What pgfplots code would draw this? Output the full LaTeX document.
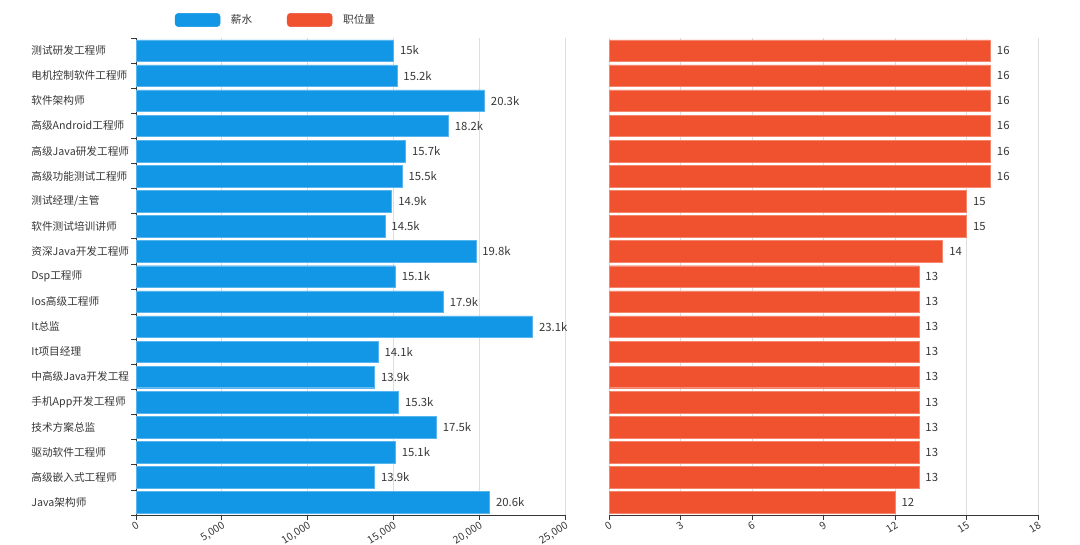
\documentclass[border=0pt]{standalone}
\usepackage{pgfplots}
\pgfplotsset{compat=1.18}
\usepackage{pgfplotstable}
\usepackage{fontspec}
\setmainfont{Noto Sans CJK SC}
\definecolor{cblue}{RGB}{18,150,230}
\definecolor{cred}{RGB}{240,82,48}
\definecolor{txt}{RGB}{55,55,55}
\definecolor{gridc}{RGB}{222,222,222}

\pgfplotstableread{
x y label
15000 0 15k
15200 1 15.2k
20300 2 20.3k
18200 3 18.2k
15700 4 15.7k
15500 5 15.5k
14900 6 14.9k
14500 7 14.5k
19800 8 19.8k
15100 9 15.1k
17900 10 17.9k
23100 11 23.1k
14100 12 14.1k
13900 13 13.9k
15300 14 15.3k
17500 15 17.5k
15100 16 15.1k
13900 17 13.9k
20600 18 20.6k
}\salary

\pgfplotstableread{
x y
16 0
16 1
16 2
16 3
16 4
16 5
15 6
15 7
14 8
13 9
13 10
13 11
13 12
13 13
13 14
13 15
13 16
13 17
12 18
}\jobs

\pgfplotsset{
  mybase/.style={
    scale only axis, width=321.75pt, height=357.75pt,
    xbar, bar width=0.86, y dir=reverse, ymin=-0.5, ymax=18.5,
    axis x line*=bottom, axis y line*=left,
    xmajorgrids, grid style={gridc, line width=0.6pt},
    tick align=outside, major tick length=3.5pt,
    x tick label style={rotate=32, anchor=north east, font=\fontsize{7.8}{9}\selectfont, text=txt, inner sep=0.5pt},
    /pgf/number format/assume math mode=true,
    axis line style={txt}, tick style={txt, line width=0.6pt},
    every node near coord/.append style={font=\fontsize{8.5}{10}\selectfont, text=txt, anchor=west, xshift=1.5pt},
    clip=false,
  }
}

\begin{document}
\begin{tikzpicture}
\path[use as bounding box] (0,0) rectangle (810pt,408pt);
\begin{axis}[mybase,
  at={(102pt,21.75pt)}, anchor=south west,
  xmin=0, xmax=25000, xtick={0,5000,10000,15000,20000,25000},
  scaled x ticks=false,
  /pgf/number format/1000 sep={,},
  ytick={-0.5,0.5,1.5,2.5,3.5,4.5,5.5,6.5,7.5,8.5,9.5,10.5,11.5,12.5,13.5,14.5,15.5,16.5,17.5,18.5},
  y tick label as interval,
  yticklabels={测试研发工程师,电机控制软件工程师,软件架构师,高级Android工程师,高级Java研发工程师,高级功能测试工程师,测试经理/主管,软件测试培训讲师,资深Java开发工程师,Dsp工程师,Ios高级工程师,It总监,It项目经理,中高级Java开发工程,手机App开发工程师,技术方案总监,驱动软件工程师,高级嵌入式工程师,Java架构师},
  y tick label style={anchor=west, xshift=-78.5pt, font=\fontsize{8}{10}\selectfont, text=txt},
  nodes near coords, point meta=explicit symbolic,
  legend style={draw=none, fill=none, at={(axis description cs:0.09,1)}, anchor=west, yshift=13.5pt,
    legend columns=2, font=\fontsize{8}{10}\selectfont, text=txt, inner sep=0pt,
    /tikz/every odd column/.append style={column sep=6pt},
    /tikz/every even column/.append style={column sep=24pt}},
]
\addplot[fill=cblue, draw=cblue!70!white, line width=0.3pt,
  legend image code/.code={\fill[cblue, rounded corners=2.5pt] (0pt,-5pt) rectangle (33.75pt,5pt);}]
  table[x=x, y=y, meta=label] {\salary};
\addlegendentry{薪水}
\addlegendimage{legend image code/.code={\fill[cred, rounded corners=2.5pt] (0pt,-5pt) rectangle (33.75pt,5pt);}}
\addlegendentry{职位量}
\end{axis}

\begin{axis}[mybase,
  at={(456.75pt,21.75pt)}, anchor=south west,
  xmin=0, xmax=18, xtick={0,3,6,9,12,15,18},
  ytick=\empty, y axis line style={draw=none},
  nodes near coords,
]
\addplot[fill=cred, draw=cred!70!white, line width=0.3pt] table[x=x, y=y] {\jobs};
\end{axis}
\end{tikzpicture}
\end{document}
